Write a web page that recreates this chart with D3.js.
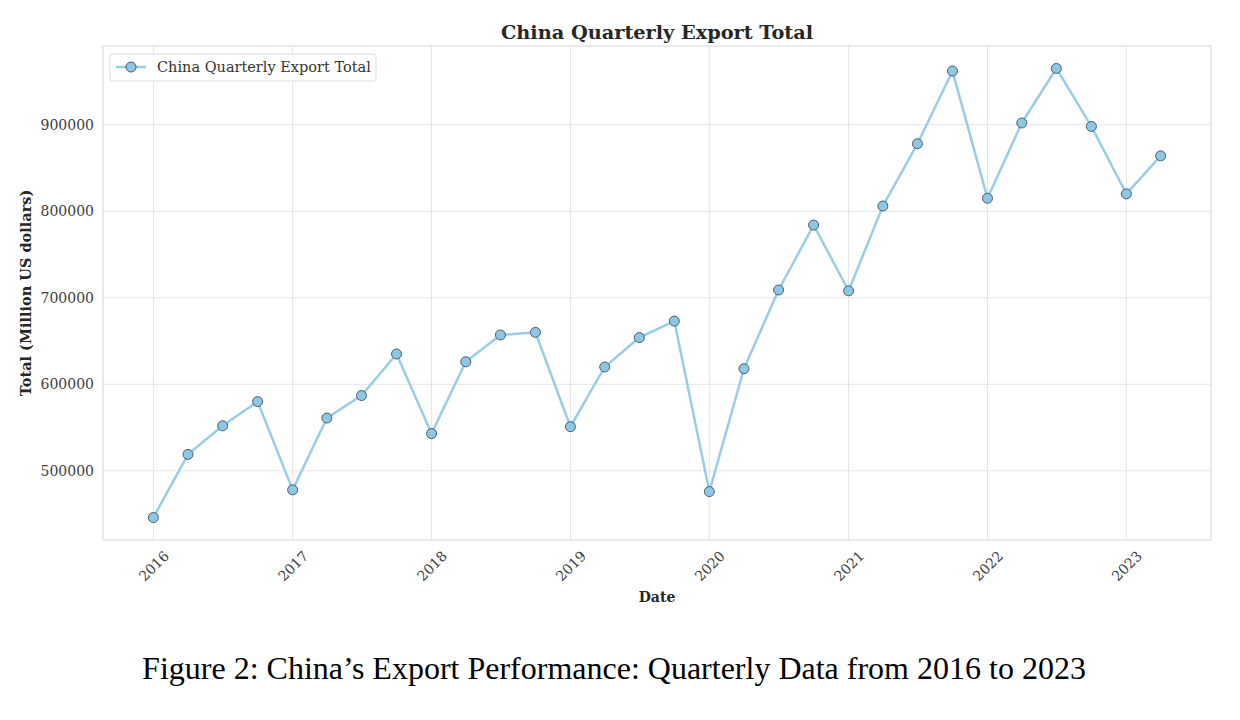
<!DOCTYPE html>
<html><head><meta charset="utf-8">
<script src="https://cdn.jsdelivr.net/npm/d3@7"></script>
<style>body{margin:0;background:#fff;} svg{display:block;}</style>
</head><body>
<svg id="c" width="1240" height="720"></svg>
<script>
const quarters = ["2016-01-01","2016-04-01","2016-07-01","2016-10-01","2017-01-01","2017-04-01","2017-07-01","2017-10-01","2018-01-01","2018-04-01","2018-07-01","2018-10-01","2019-01-01","2019-04-01","2019-07-01","2019-10-01","2020-01-01","2020-04-01","2020-07-01","2020-10-01","2021-01-01","2021-04-01","2021-07-01","2021-10-01","2022-01-01","2022-04-01","2022-07-01","2022-10-01","2023-01-01","2023-04-01"];
const totals = [446000,519000,552000,580000,478000,561000,587000,635000,543000,626000,657000,660000,551000,620000,654000,673000,476000,618000,709000,784000,708000,806000,878000,962000,815000,902000,965000,898000,820000,864000];
const yTicks = [500000,600000,700000,800000,900000];
const xTickYears = [2016,2017,2018,2019,2020,2021,2022,2023];
const titleText = "China Quarterly Export Total";
const legendText = "China Quarterly Export Total";
const xLabel = "Date";
const yLabel = "Total (Million US dollars)";
const caption = "Figure 2: China\u2019s Export Performance: Quarterly Data from 2016 to 2023";

const svg = d3.select("#c");
const L=103, R=1211, T=46, B=540;
const parse = d3.timeParse("%Y-%m-%d");
const data = quarters.map((q,i)=>({d:parse(q), v:totals[i]}));

const xe = d3.extent(data,d=>d.d);
const span = xe[1]-xe[0];
const x = d3.scaleTime().domain([new Date(+xe[0]-span*0.05), new Date(+xe[1]+span*0.05)]).range([L,R]);
const ye = d3.extent(data,d=>d.v);
const ys = ye[1]-ye[0];
const y = d3.scaleLinear().domain([ye[0]-ys*0.05, ye[1]+ys*0.05]).range([B,T]);

const serif = "'DejaVu Serif', serif";
const grid = "#e5e5e5";

// gridlines
const xt = xTickYears.map(yr=>new Date(yr,0,1));
svg.append("g").selectAll("line").data(xt).join("line")
  .attr("x1",d=>x(d)).attr("x2",d=>x(d)).attr("y1",T).attr("y2",B)
  .attr("stroke",grid).attr("stroke-width",1);
svg.append("g").selectAll("line").data(yTicks).join("line")
  .attr("x1",L).attr("x2",R).attr("y1",d=>y(d)).attr("y2",d=>y(d))
  .attr("stroke",grid).attr("stroke-width",1);

// frame
svg.append("rect").attr("x",L).attr("y",T).attr("width",R-L).attr("height",B-T)
  .attr("fill","none").attr("stroke","#dcdcdc").attr("stroke-width",1.2);

// axes
const xAxis = d3.axisBottom(x).tickValues(xt).tickFormat(d3.timeFormat("%Y")).tickSize(0).tickPadding(8);
const gx = svg.append("g").attr("transform",`translate(0,${B})`).call(xAxis);
gx.select(".domain").remove();
gx.selectAll("text").attr("font-family",serif).attr("font-size",14).attr("fill","#3b3b3b")
  .attr("text-anchor","middle").attr("dy","0.35em").attr("y",0)
  .attr("transform","translate(0,26) rotate(-45)");

const yAxis = d3.axisLeft(y).tickValues(yTicks).tickFormat(d3.format("d")).tickSize(0).tickPadding(9);
const gy = svg.append("g").attr("transform",`translate(${L},0)`).call(yAxis);
gy.select(".domain").remove();
gy.selectAll("text").attr("font-family",serif).attr("font-size",14).attr("fill","#3b3b3b");

// line
svg.append("path").datum(data)
  .attr("d", d3.line().x(d=>x(d.d)).y(d=>y(d.v)))
  .attr("fill","none").attr("stroke","#98cde8").attr("stroke-width",2.5);
svg.append("g").selectAll("circle").data(data).join("circle")
  .attr("cx",d=>x(d.d)).attr("cy",d=>y(d.v)).attr("r",5)
  .attr("fill","#8ec6e6").attr("stroke","#3f4f5a").attr("stroke-width",0.9);

// title
svg.append("text").attr("x",(L+R)/2).attr("y",39).attr("text-anchor","middle")
  .attr("font-family",serif).attr("font-weight","bold").attr("font-size",19.3).attr("fill","#262626").text(titleText);

// axis labels
svg.append("text").attr("x",(L+R)/2).attr("y",602).attr("text-anchor","middle")
  .attr("font-family",serif).attr("font-weight","bold").attr("font-size",14).attr("fill","#262626").text(xLabel);
svg.append("text").attr("transform",`translate(31,${(T+B)/2}) rotate(-90)`).attr("text-anchor","middle")
  .attr("font-family",serif).attr("font-weight","bold").attr("font-size",14.5).attr("fill","#262626").text(yLabel);

// legend
const lg = svg.append("g");
lg.append("rect").attr("x",110).attr("y",54).attr("width",266).attr("height",27).attr("rx",2.5)
  .attr("fill","#fff").attr("stroke","#dcdcdc").attr("stroke-width",1);
lg.append("line").attr("x1",116).attr("x2",146).attr("y1",67).attr("y2",67)
  .attr("stroke","#98cde8").attr("stroke-width",2.5);
lg.append("circle").attr("cx",131).attr("cy",67).attr("r",5)
  .attr("fill","#8ec6e6").attr("stroke","#3f4f5a").attr("stroke-width",0.9);
lg.append("text").attr("x",157).attr("y",72).attr("font-family",serif).attr("font-size",14.5)
  .attr("fill","#333").text(legendText);

// caption
svg.append("text").attr("x",614).attr("y",679).attr("text-anchor","middle")
  .attr("font-family","'Liberation Serif', 'Times New Roman', serif").attr("font-size",32).attr("fill","#000").text(caption);
</script>
</body></html>
